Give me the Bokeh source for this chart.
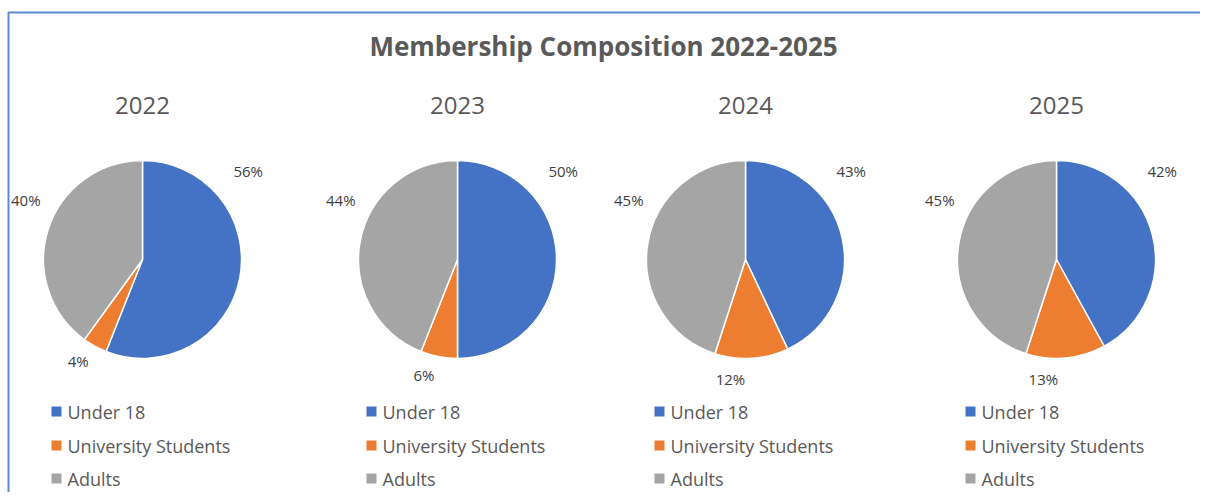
import math
from bokeh.plotting import figure
from bokeh.models import Range1d, ColumnDataSource
from bokeh.core.properties import value
from bokeh.embed import file_html
from bokeh.resources import INLINE

# ---- data ----
title = "Membership Composition 2022-2025"
years = ["2022", "2023", "2024", "2025"]
categories = ["Under 18", "University Students", "Adults"]
under_18 = [56, 50, 43, 42]
university_students = [4, 6, 12, 13]
adults = [40, 44, 45, 45]

# ---- styles / layout ----
colors = ["#4472C4", "#ED7D31", "#A5A5A5"]
FONT = "Open Sans"
W, H = 1200, 492
panel_cx = [142, 457, 745, 1056]
pie_cy = H - 259
R = 99
# label placement rule per category: ("fixed", angle clockwise from top) or ("frac", fraction of slice)
label_rule = [("fixed", 50, 138), ("frac", 0.75, 120), ("fixed", 297, 131)]

p = figure(width=W, height=H, x_range=Range1d(0, W), y_range=Range1d(0, H),
           output_backend="svg", toolbar_location=None, min_border=0,
           background_fill_color="white", border_fill_color="white")
p.axis.visible = False
p.grid.visible = False
p.outline_line_color = None

# border (top and left edges of chart area)
p.line(x=[8, 8, W], y=[0, H - 12, H - 12], line_color="#5B8BD0", line_width=2)

# main title
p.text(x=[603], y=[H - 45], text=[title], text_font=value(FONT), text_font_style="bold",
       text_font_size="26px", text_color="#595959", text_align="center", text_baseline="middle")

series = [under_18, university_students, adults]
for i, yr in enumerate(years):
    cx = panel_cx[i]
    vals = [s[i] for s in series]
    total = float(sum(vals))
    # clockwise-from-top angles
    starts, ends = [], []
    acc = 0.0
    for v in vals:
        starts.append(acc / total * 360.0)
        acc += v
        ends.append(acc / total * 360.0)
    src = ColumnDataSource(dict(
        start=[math.radians(90 - e) for e in ends],
        end=[math.radians(90 - s) for s in starts],
        color=colors,
    ))
    p.wedge(x=cx, y=pie_cy, radius=R, radius_units="screen", start_angle="start", end_angle="end",
            direction="anticlock", fill_color="color", line_color="white", line_width=1.5, source=src)

    # year title
    p.text(x=[cx], y=[H - 105], text=[yr], text_font=value(FONT), text_font_size="24px",
           text_color="#595959", text_align="center", text_baseline="middle")

    # percentage labels
    lx, ly, lt = [], [], []
    for k, v in enumerate(vals):
        kind, a, r = label_rule[k]
        ang = a if kind == "fixed" else starts[k] + a * (ends[k] - starts[k])
        lx.append(cx + r * math.sin(math.radians(ang)))
        ly.append(pie_cy + r * math.cos(math.radians(ang)))
        lt.append(f"{v}%")
    p.text(x=lx, y=ly, text=lt, text_font=value(FONT), text_font_size="15px",
           text_color="#404040", text_align="center", text_baseline="middle")

    # legend
    ys = [H - 411, H - 445, H - 478]
    p.rect(x=[cx - 86] * 3, y=ys, width=10, height=10, width_units="screen", height_units="screen",
           fill_color=colors, line_color=None)
    p.text(x=[cx - 75] * 3, y=ys, text=categories, text_font=value(FONT), text_font_size="18px",
           text_color="#595959", text_align="left", text_baseline="middle")

open("out.html", "w").write(file_html(p, INLINE))
